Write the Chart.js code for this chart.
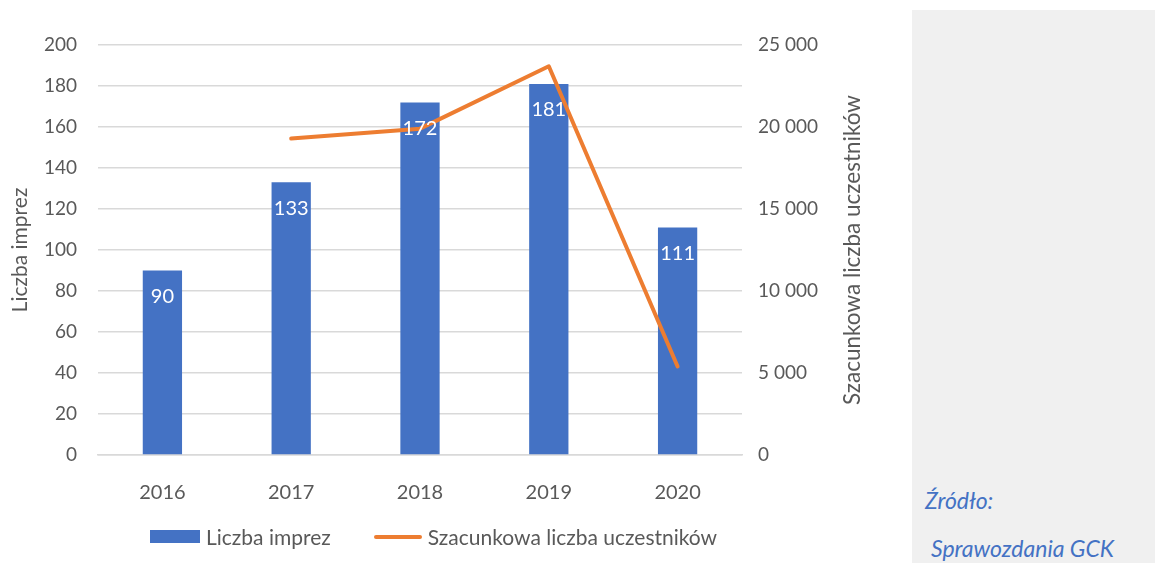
<!DOCTYPE html>
<html>
<head>
<meta charset="utf-8">
<script src="https://cdn.jsdelivr.net/npm/chart.js@4.4.1/dist/chart.umd.min.js"></script>
<style>
  html, body { margin: 0; padding: 0; background: #fff; }
  body { width: 1155px; height: 563px; position: relative; overflow: hidden; font-family: Lato, "Open Sans", sans-serif; }
  #wrap { position: absolute; left: 0; top: 0; width: 1155px; height: 563px; }
  #side { position: absolute; left: 912px; top: 10px; right: 0; bottom: 0; background: #f0f0f0; }
  .src { position: absolute; color: #4472c4; font-style: italic; font-size: 23px; white-space: nowrap; }
  #legend { position: absolute; top: 524px; left: 150px; display: flex; align-items: center; font-size: 21px; color: #595959; }
  .lg-box { width: 50px; height: 13px; background: #4472c4; margin-right: 6px; }
  .lg-line { width: 48px; height: 4px; border-radius: 2px; background: #ed7d31; margin-left: 43px; margin-right: 6px; }
</style>
</head>
<body>
<div id="side"></div>
<div class="src" style="left:925px; top:486px;">Źródło:</div>
<div class="src" style="left:931px; top:534px;">Sprawozdania GCK</div>
<div id="wrap"><canvas id="chart"></canvas></div>
<div id="legend">
  <div class="lg-box"></div><span>Liczba imprez</span>
  <div class="lg-line"></div><span>Szacunkowa liczba uczestników</span>
</div>
<script>
// ── DANE ──────────────────────────────────────────────
const years        = ['2016', '2017', '2018', '2019', '2020'];
const eventCounts  = [90, 133, 172, 181, 111];
const participants = [null, 19300, 19900, 23700, 5400];
const leftTicks    = [0, 20, 40, 60, 80, 100, 120, 140, 160, 180, 200];
const rightTicks   = [0, 5000, 10000, 15000, 20000, 25000];

const BLUE   = '#4472c4';
const ORANGE = '#ed7d31';
const GREY   = '#595959';
const FONT   = 'Lato, "Open Sans", sans-serif';

// etykiety wartości w słupkach + tytuły osi
const extras = {
  id: 'extras',
  afterDatasetsDraw(chart) {
    const ctx = chart.ctx;
    const meta = chart.getDatasetMeta(0);
    ctx.save();
    ctx.fillStyle = '#fff';
    ctx.font = '20px ' + FONT;
    ctx.textAlign = 'center';
    ctx.textBaseline = 'middle';
    meta.data.forEach((bar, i) => {
      ctx.fillText(String(eventCounts[i]), bar.x, bar.y + 26);
    });
    ctx.restore();
  },
  afterDraw(chart) {
    const ctx = chart.ctx;
    const ca = chart.chartArea;
    const midY = (ca.top + ca.bottom) / 2;
    ctx.save();
    ctx.fillStyle = GREY;
    ctx.textAlign = 'center';
    ctx.textBaseline = 'middle';
    [[20, 'Liczba imprez', 21], [853, 'Szacunkowa liczba uczestników', 22.5]].forEach(([x, t, sz]) => {
      ctx.save();
      ctx.font = sz + 'px ' + FONT;
      ctx.translate(x, midY);
      ctx.rotate(-Math.PI / 2);
      ctx.fillText(t, 0, 0);
      ctx.restore();
    });
    ctx.restore();
  }
};

new Chart(document.getElementById('chart'), {
  data: {
    labels: years,
    datasets: [
      {
        type: 'bar',
        label: 'Liczba imprez',
        data: eventCounts,
        backgroundColor: BLUE,
        yAxisID: 'y',
        barPercentage: 0.305,
        categoryPercentage: 1,
        order: 2
      },
      {
        type: 'line',
        label: 'Szacunkowa liczba uczestników',
        data: participants,
        borderColor: ORANGE,
        backgroundColor: ORANGE,
        borderWidth: 4,
        borderCapStyle: 'round',
        borderJoinStyle: 'round',
        pointRadius: 0,
        tension: 0,
        yAxisID: 'y1',
        order: 1
      }
    ]
  },
  plugins: [extras],
  options: {
    responsive: true,
    maintainAspectRatio: false,
    animation: false,
    layout: { padding: { top: 45, left: 0, right: 0, bottom: 0 } },
    plugins: { legend: { display: false }, tooltip: { enabled: false } },
    scales: {
      x: {
        grid: { display: false },
        border: { display: true, color: '#d9d9d9', width: 1.5 },
        ticks: { color: GREY, font: { family: FONT, size: 20 }, padding: 18 },
        afterFit: s => { s.height = 108; }
      },
      y: {
        position: 'left',
        min: 0, max: 200,
        afterBuildTicks: s => { s.ticks = leftTicks.map(v => ({ value: v })); },
        grid: { color: '#d9d9d9', lineWidth: 1.5, drawTicks: false },
        border: { display: false },
        ticks: { color: GREY, font: { family: FONT, size: 19 }, padding: 21 },
        afterFit: s => { s.width = 98; }
      },
      y1: {
        position: 'right',
        min: 0, max: 25000,
        afterBuildTicks: s => { s.ticks = rightTicks.map(v => ({ value: v })); },
        grid: { display: false, drawTicks: false },
        border: { display: false },
        ticks: {
          color: GREY, font: { family: FONT, size: 19 }, padding: 16,
          callback: v => v === 0 ? '0' : String(v).replace(/\B(?=(\d{3})+(?!\d))/g, ' ')
        },
        afterFit: s => { s.width = 413; }
      }
    }
  }
});
</script>
</body>
</html>
